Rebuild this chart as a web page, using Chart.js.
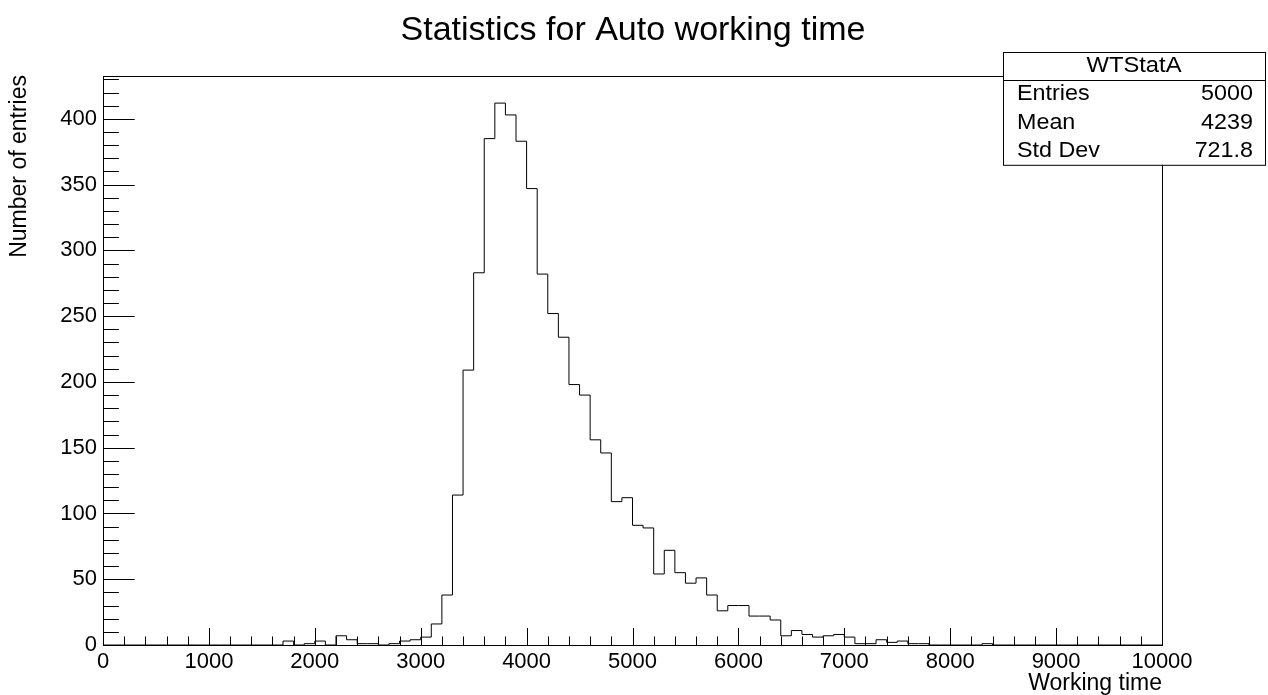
<!DOCTYPE html>
<html>
<head>
<meta charset="utf-8">
<title>Statistics for Auto working time</title>
<script src="https://cdn.jsdelivr.net/npm/chart.js@4/dist/chart.umd.min.js"></script>
<style>
    html, body { margin: 0; padding: 0; background: #fff; }
    #wrap { width: 1268px; height: 695px; position: relative; }
</style>
</head>
<body>
<div id="wrap"><canvas id="chartWT"></canvas></div>
<script>
// ── Histogram WTStatA: 100 bins, 0 .. 10000 ──────────────────────────────────
var binEdges = [
       0,  100,  200,  300,  400,  500,  600,  700,  800,  900,
    1000, 1100, 1200, 1300, 1400, 1500, 1600, 1700, 1800, 1900,
    2000, 2100, 2200, 2300, 2400, 2500, 2600, 2700, 2800, 2900,
    3000, 3100, 3200, 3300, 3400, 3500, 3600, 3700, 3800, 3900,
    4000, 4100, 4200, 4300, 4400, 4500, 4600, 4700, 4800, 4900,
    5000, 5100, 5200, 5300, 5400, 5500, 5600, 5700, 5800, 5900,
    6000, 6100, 6200, 6300, 6400, 6500, 6600, 6700, 6800, 6900,
    7000, 7100, 7200, 7300, 7400, 7500, 7600, 7700, 7800, 7900,
    8000, 8100, 8200, 8300, 8400, 8500, 8600, 8700, 8800, 8900,
    9000, 9100, 9200, 9300, 9400, 9500, 9600, 9700, 9800, 9900,
    10000
];

var binCounts = [
      0,   0,   0,   0,   0,   0,   0,   0,   0,   0,
      0,   0,   0,   0,   0,   0,   0,   3,   0,   1,
      3,   0,   7,   4,   1,   1,   0,   1,   3,   4,
      6,  16,  38, 114, 209, 283, 385, 412, 403, 383,
    347, 282, 252, 234, 198, 190, 156, 146, 109, 112,
     91,  89,  54,  72,  55,  47,  51,  38,  26,  30,
     30,  22,  22,  19,   7,  11,   8,   6,   7,   8,
      6,   1,   1,   4,   2,   3,   1,   1,   0,   0,
      0,   0,   0,   1,   0,   0,   0,   0,   0,   0,
      0,   0,   0,   0,   0,   0,   0,   0,   0,   0
];

var xTickLabels = [0, 1000, 2000, 3000, 4000, 5000, 6000, 7000, 8000, 9000, 10000];
var yTickLabels = [0, 50, 100, 150, 200, 250, 300, 350, 400];

var statTitle  = 'WTStatA';
var statNames  = ['Entries', 'Mean', 'Std Dev'];
var statValues = ['5000', '4239', '721.8'];

var FONT = '"Liberation Sans", Arial, Helvetica, sans-serif';

// outline points: each bin starts at its low edge, last point closes the final bin
var histPoints = binEdges.map(function (e, i) {
    var c = i < binCounts.length ? binCounts[i] : binCounts[binCounts.length - 1];
    return { x: e, y: c };
});
var yMax = Math.max.apply(null, binCounts) * 1.05;

function drawText(ctx, s, x, y, size, align, sx) {
    ctx.save();
    ctx.font = size + 'px ' + FONT;
    ctx.fillStyle = '#000';
    ctx.textAlign = align;
    ctx.textBaseline = 'middle';
    ctx.translate(x, y);
    ctx.scale(sx || 1, 1);
    ctx.fillText(s, 0, 0);
    ctx.restore();
}

function hline(ctx, x1, x2, y) {
    ctx.beginPath();
    ctx.moveTo(x1, Math.round(y) + 0.5);
    ctx.lineTo(x2, Math.round(y) + 0.5);
    ctx.stroke();
}

function vline(ctx, x, y1, y2) {
    ctx.beginPath();
    ctx.moveTo(Math.round(x) + 0.5, y1);
    ctx.lineTo(Math.round(x) + 0.5, y2);
    ctx.stroke();
}

// ── Frame, inward ticks, labels and stats box ────────────────────────────────
var rootFrame = {
    id: 'rootFrame',
    afterDraw: function (chart) {
        var ctx = chart.ctx, a = chart.chartArea;
        var sx = chart.scales.x, sy = chart.scales.y;
        var v, p;

        ctx.save();
        ctx.strokeStyle = '#000';
        ctx.lineWidth = 1;

        // frame
        hline(ctx, a.left, a.right + 1, a.top);
        hline(ctx, a.left, a.right + 1, a.bottom);
        vline(ctx, a.left, a.top, a.bottom + 1);
        vline(ctx, a.right, a.top, a.bottom + 1);

        // y axis ticks: major every 50, minor every 10
        var yMajLen = (a.right - a.left) * 0.03;
        for (v = 0; v <= sy.max; v += 10) {
            p = sy.getPixelForValue(v);
            hline(ctx, a.left, a.left + (v % 50 === 0 ? yMajLen : yMajLen / 2), p);
        }
        // x axis ticks: major every 1000, minor every 200
        var xMajLen = (a.bottom - a.top) * 0.03;
        for (v = 0; v <= sx.max; v += 200) {
            p = sx.getPixelForValue(v);
            vline(ctx, p, a.bottom, a.bottom - (v % 1000 === 0 ? xMajLen : xMajLen / 2));
        }

        // tick labels
        yTickLabels.forEach(function (t) {
            drawText(ctx, String(t), a.left - 6, sy.getPixelForValue(t), 22, 'right');
        });
        xTickLabels.forEach(function (t) {
            drawText(ctx, String(t), sx.getPixelForValue(t), a.bottom + 17, 22, 'center');
        });

        // axis titles
        drawText(ctx, 'Working time', a.right, a.bottom + 39, 23, 'right');
        ctx.save();
        ctx.translate(20, a.top - 1);
        ctx.rotate(-Math.PI / 2);
        drawText(ctx, 'Number of entries', 0, 0, 23, 'right');
        ctx.restore();

        // main title
        drawText(ctx, 'Statistics for Auto working time', 633, 31, 34, 'center');

        // stats box
        var bx1 = 1003, bx2 = 1265, by1 = 52, row = 28.2;
        var by2 = by1 + row * (statNames.length + 1);
        ctx.fillStyle = '#fff';
        ctx.fillRect(bx1, by1, bx2 - bx1, by2 - by1);
        ctx.strokeRect(bx1 + 0.5, by1 + 0.5, bx2 - bx1, by2 - by1);
        hline(ctx, bx1, bx2, by1 + row);
        drawText(ctx, statTitle, (bx1 + bx2) / 2, by1 + row / 2, 22, 'center', 1.08);
        statNames.forEach(function (n, k) {
            var cy = by1 + row * (k + 1.5);
            drawText(ctx, n, bx1 + 14, cy, 22, 'left', 1.06);
            drawText(ctx, statValues[k], bx2 - 12, cy, 22, 'right', 1.06);
        });

        ctx.restore();
    }
};

new Chart(document.getElementById('chartWT').getContext('2d'), {
    type: 'line',
    data: {
        datasets: [{
            label: statTitle,
            data: histPoints,
            stepped: 'before',
            borderColor: '#000',
            borderWidth: 1,
            pointRadius: 0,
            fill: false
        }]
    },
    options: {
        responsive: true,
        maintainAspectRatio: false,
        animation: false,
        layout: { padding: { left: 103, right: 106, top: 76, bottom: 50 } },
        plugins: {
            legend: { display: false },
            tooltip: { enabled: false }
        },
        scales: {
            x: { type: 'linear', min: 0, max: 10000, display: false },
            y: { type: 'linear', min: 0, max: yMax, display: false }
        }
    },
    plugins: [rootFrame]
});
</script>
</body>
</html>
